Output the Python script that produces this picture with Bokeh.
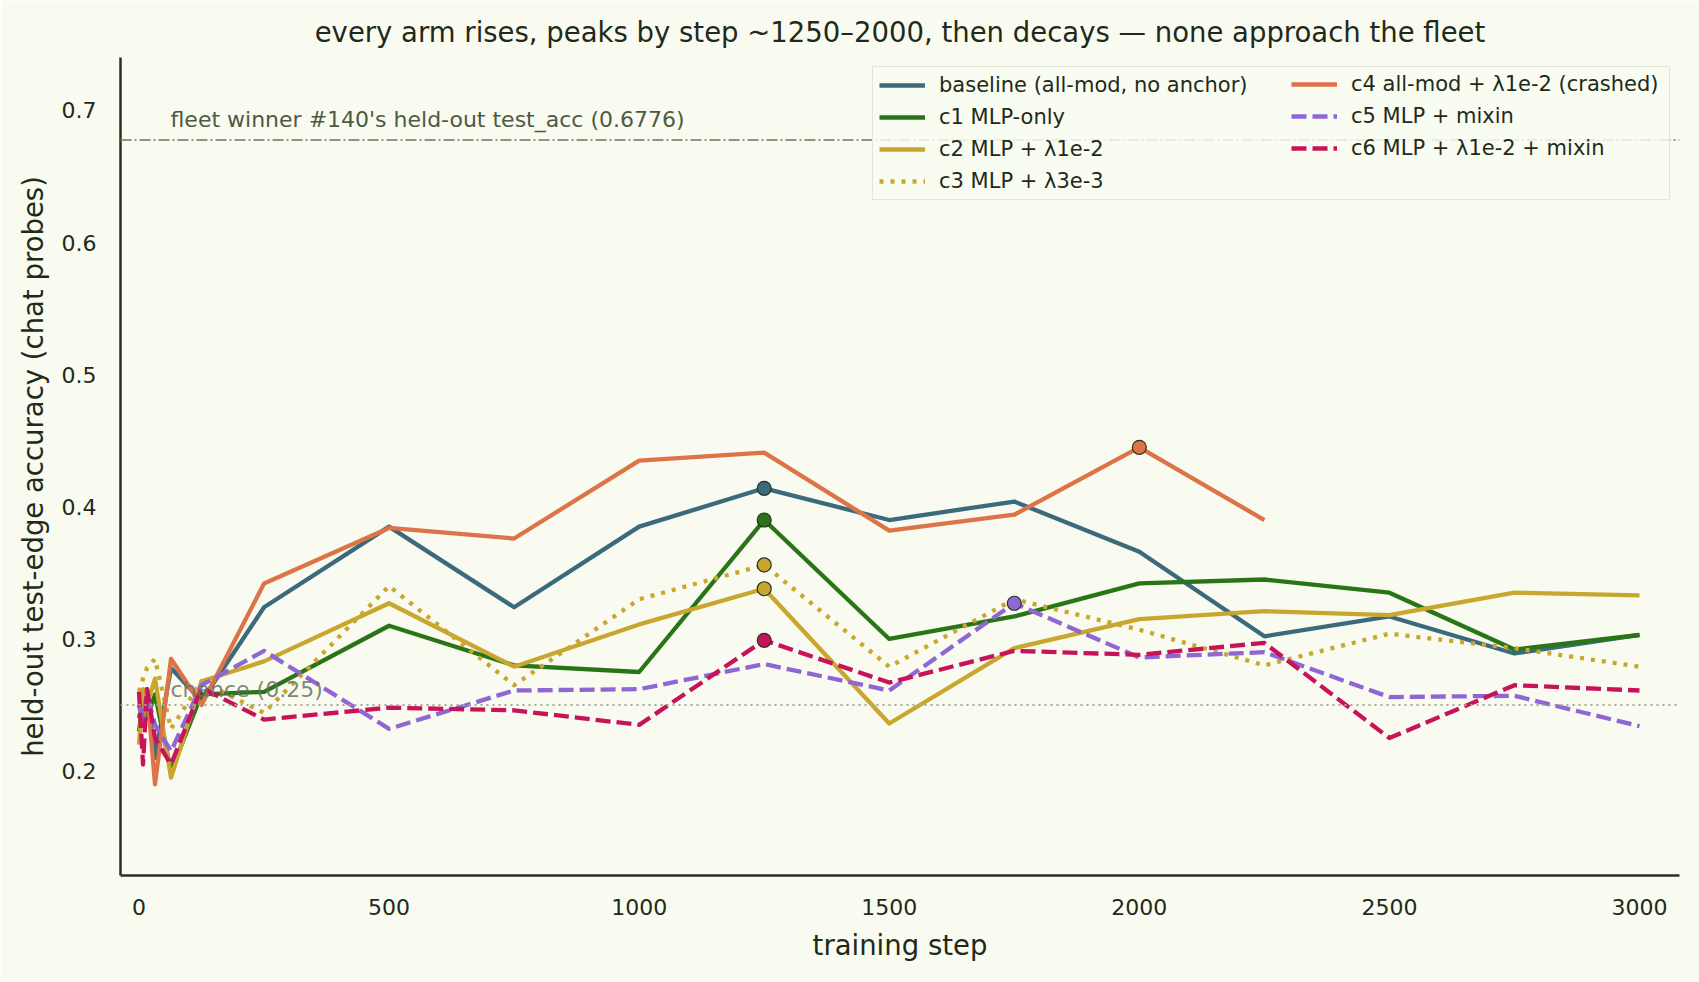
from bokeh.plotting import figure
from bokeh.models import Legend, LegendItem, Span, Label, FixedTicker, Range1d
from bokeh.embed import file_html
from bokeh.resources import INLINE

steps = [0, 8, 16, 32, 64, 125, 250, 500, 750, 1000, 1250, 1500, 1750, 2000, 2250, 2500, 2750, 3000]

baseline = [0.24, 0.255, 0.262, 0.21, 0.278, 0.253, 0.324, 0.385, 0.324, 0.385, 0.414, 0.390, 0.404, 0.366, 0.302, 0.317, 0.289, 0.303]
c1 = [0.23, 0.255, 0.24, 0.258, 0.20, 0.258, 0.260, 0.310, 0.280, 0.275, 0.390, 0.300, 0.317, 0.342, 0.345, 0.335, 0.292, 0.303]
c2 = [0.22, 0.262, 0.25, 0.27, 0.195, 0.268, 0.283, 0.327, 0.279, 0.311, 0.338, 0.236, 0.293, 0.315, 0.321, 0.318, 0.335, 0.333]
c3 = [0.26, 0.27, 0.278, 0.285, 0.232, 0.268, 0.244, 0.340, 0.265, 0.330, 0.356, 0.279, 0.330, 0.307, 0.280, 0.304, 0.293, 0.279]
c4 = [0.25, 0.235, 0.262, 0.19, 0.285, 0.25, 0.342, 0.384, 0.376, 0.435, 0.441, 0.382, 0.394, 0.445, 0.390]
c5 = [0.25, 0.24, 0.258, 0.235, 0.215, 0.265, 0.291, 0.232, 0.261, 0.262, 0.281, 0.261, 0.327, 0.286, 0.290, 0.256, 0.257, 0.234]
c6 = [0.26, 0.205, 0.262, 0.225, 0.205, 0.263, 0.239, 0.248, 0.246, 0.235, 0.299, 0.267, 0.291, 0.288, 0.297, 0.225, 0.265, 0.261]

names = ["baseline (all-mod, no anchor)", "c1 MLP-only", "c2 MLP + \u03bb1e-2", "c3 MLP + \u03bb3e-3",
         "c4 all-mod + \u03bb1e-2 (crashed)", "c5 MLP + mixin", "c6 MLP + \u03bb1e-2 + mixin"]
series = [baseline, c1, c2, c3, c4, c5, c6]
colors = ["#3b6a7c", "#2a7418", "#c9a62e", "#c9a62e", "#dc7448", "#8f66d4", "#c8135a"]
dashes = ["solid", "solid", "solid", "4 7", "solid", "15 6", "15 6"]

fleet_acc = 0.6776
chance = 0.25
x_ticks = [0, 500, 1000, 1500, 2000, 2500, 3000]
y_ticks = [0.2, 0.3, 0.4, 0.5, 0.6, 0.7]

BG = "#f9fbf0"
TXT = "#1f2a1a"

p = figure(width=1699, height=982, output_backend="svg", toolbar_location=None,
           x_range=Range1d(-37, 3080), y_range=Range1d(0.121, 0.740),
           min_border_left=120, min_border_right=20, min_border_top=57, min_border_bottom=107,
           background_fill_color=BG, border_fill_color=BG)
p.outline_line_color = None
p.grid.visible = False

p.title.text = "every arm rises, peaks by step ~1250\u20132000, then decays \u2014 none approach the fleet"
p.title.align = "center"
p.title.text_font = "DejaVu Sans"
p.title.text_font_size = "27.5px"
p.title.text_font_style = "normal"
p.title.text_color = TXT
p.title.standoff = 20

for ax in [p.xaxis[0], p.yaxis[0]]:
    ax.axis_line_color = "#26331f"
    ax.axis_line_width = 2.5
    ax.major_tick_out = 0
    ax.major_tick_in = 0
    ax.minor_tick_out = 0
    ax.minor_tick_in = 0
    ax.major_label_text_font = "DejaVu Sans"
    ax.major_label_text_font_size = "22px"
    ax.major_label_text_color = TXT
    ax.axis_label_text_font = "DejaVu Sans"
    ax.axis_label_text_font_size = "27.5px"
    ax.axis_label_text_font_style = "normal"
    ax.axis_label_text_color = TXT

p.xaxis.ticker = FixedTicker(ticks=x_ticks)
p.yaxis.ticker = FixedTicker(ticks=y_ticks)
p.xaxis.major_label_standoff = 23
p.yaxis.major_label_standoff = 24
p.xaxis.axis_label = "training step"
p.yaxis.axis_label = "held-out test-edge accuracy (chat probes)"
p.xaxis.axis_label_standoff = 11
p.yaxis.axis_label_standoff = 10

# reference lines
p.add_layout(Span(location=fleet_acc, dimension="width", line_color="#7f8c6e", line_width=2,
                  line_dash="11 3 2 3", line_alpha=0.9))
p.add_layout(Span(location=chance, dimension="width", line_color="#a5a898", line_width=2,
                  line_dash="2 4"))
p.add_layout(Label(x=63, y=fleet_acc, y_offset=8, text="fleet winner #140's held-out test_acc (0.6776)",
                   text_font="DejaVu Sans", text_font_size="22px", text_color="#4d5a44"))
p.add_layout(Label(x=63, y=chance, y_offset=3, text="chance (0.25)",
                   text_font="DejaVu Sans", text_font_size="22px", text_color="#6b7062", text_alpha=0.85))

items = []
for name, ys, col, dash in zip(names, series, colors, dashes):
    xs = steps[:len(ys)]
    r = p.line(xs, ys, line_color=col, line_width=4.3, line_dash=dash, line_cap="butt", line_join="round")
    items.append(LegendItem(label=name, renderers=[r]))

for ys, col in zip(series, colors):
    xs = steps[:len(ys)]
    i = max(range(len(ys)), key=lambda k: ys[k])
    p.scatter([xs[i]], [ys[i]], size=14, fill_color=col, line_color="#26331f", line_width=1.2)

common = dict(location="top_right", label_text_font="DejaVu Sans", label_text_font_size="21px",
              label_text_color=TXT, glyph_width=46, glyph_height=20, spacing=8, padding=6,
              margin=9, label_standoff=14, label_height=24)
legend_a = Legend(items=items[:4], background_fill_color=BG, background_fill_alpha=0.85,
                  border_line_color="#cfd0c8", border_line_width=1.5, label_width=724, **common)
legend_b = Legend(items=items[4:], background_fill_alpha=0, border_line_alpha=0,
                  label_width=313, **common)
p.add_layout(legend_a)
p.add_layout(legend_b)

open("out.html", "w").write(file_html(p, INLINE))
